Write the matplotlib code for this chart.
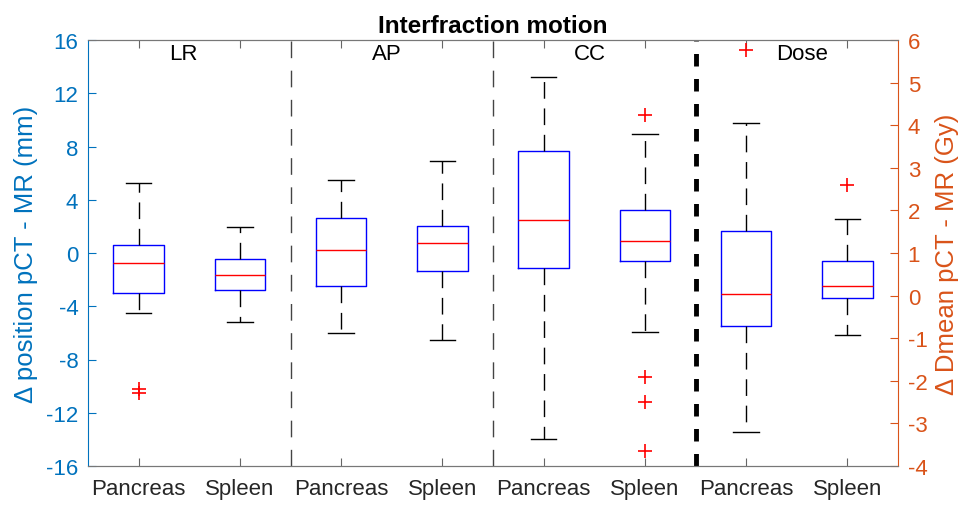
import numpy as np
import matplotlib
matplotlib.use('Agg')
import matplotlib.pyplot as plt

plt.rcParams['font.family'] = ['Liberation Sans', 'DejaVu Sans']
plt.rcParams['lines.scale_dashes'] = False
plt.rcParams['axes.unicode_minus'] = False

## data
groups = ['LR', 'AP', 'CC', 'Dose']
xlabels = ['Pancreas', 'Spleen'] * 4
whishi = [5.26, 1.95, 5.46, 6.91, 13.25, 8.91, 4.04, 1.79]
q3 = [0.60, -0.45, 2.63, 2.05, 7.69, 3.25, 1.51, 0.82]
med = [-0.75, -1.65, 0.22, 0.75, 2.50, 0.92, 0.04, 0.23]
q1 = [-3.03, -2.76, -2.46, -1.37, -1.15, -0.63, -0.71, -0.05]
whislo = [-4.48, -5.18, -6.03, -6.51, -13.97, -5.91, -3.21, -0.92]
fliers = [[-10.2, -10.5], [], [], [], [], [10.39, -9.29, -11.22, -14.85], [5.77], [2.60]]

blue = '#0072BD'
orange = '#D95319'

stats = []
for i in range(8):
    stats.append(dict(med=med[i], q1=q1[i], q3=q3[i], whislo=whislo[i],
                      whishi=whishi[i], fliers=fliers[i]))

fig = plt.figure(figsize=(9.66, 5.06), dpi=100)
ax = fig.add_axes([88/966, 39/506, 810/966, 426/506])
ax2 = ax.twinx()

props = dict(widths=0.5, capwidths=0.25, patch_artist=False,
             boxprops=dict(color='b', linewidth=1.0),
             medianprops=dict(color='r', linewidth=1.0),
             whiskerprops=dict(color='k', linewidth=1.0, linestyle=(0, (12, 7))),
             capprops=dict(color='k', linewidth=1.0),
             flierprops=dict(marker='+', markeredgecolor='r', markersize=10,
                             markeredgewidth=1.2, linestyle='none'),
             manage_ticks=False)

pos = np.arange(1, 9)
ax.bxp(stats[:6], positions=pos[:6], **props)
ax2.bxp(stats[6:], positions=pos[6:], **props)

ax.set_xlim(0.5, 8.5)
ax.set_ylim(-16, 16)
ax2.set_ylim(-4, 6)
ax.set_yticks(np.arange(-16, 17, 4))
ax2.set_yticks(np.arange(-4, 7, 1))
ax.set_xticks(pos)
ax.set_xticklabels(xlabels)

# separators between groups
ax.axvline(2.5, color='#444444', linewidth=1.0, linestyle=(0, (12, 9)))
ax.axvline(4.5, color='#444444', linewidth=1.0, linestyle=(0, (12, 9)))
ax.axvline(6.5, color='k', linewidth=3.5, linestyle=(0, (9, 9)))

# group names
for i, g in enumerate(groups):
    ax.text(2*i + 1.3, 15.75, g, ha='left', va='top', fontsize=16, color='k')

ax.tick_params(axis='x', direction='in', length=6, top=True, labelsize=16,
               colors='#666666', labelcolor='#262626', pad=9)
ax.tick_params(axis='y', direction='in', length=6, colors=blue, labelsize=16, pad=7)
ax2.tick_params(axis='y', direction='in', length=6, colors=orange, labelsize=16, pad=7)

ax.spines['left'].set_color(blue)
ax.spines['right'].set_visible(False)
ax2.spines['left'].set_visible(False)
ax2.spines['right'].set_color(orange)
for a in (ax, ax2):
    a.spines['top'].set_color('#777777')
    a.spines['bottom'].set_color('#777777')

ax.set_ylabel('\u0394 position pCT - MR (mm)', fontsize=18.5, color=blue, labelpad=6)
ax2.set_ylabel('\u0394 Dmean pCT - MR (Gy)', fontsize=18.5, color=orange, labelpad=5)
ax.set_title('Interfraction motion', fontsize=17.5, fontweight='bold', color='k', pad=6)

plt.savefig('out.png', format='png')
